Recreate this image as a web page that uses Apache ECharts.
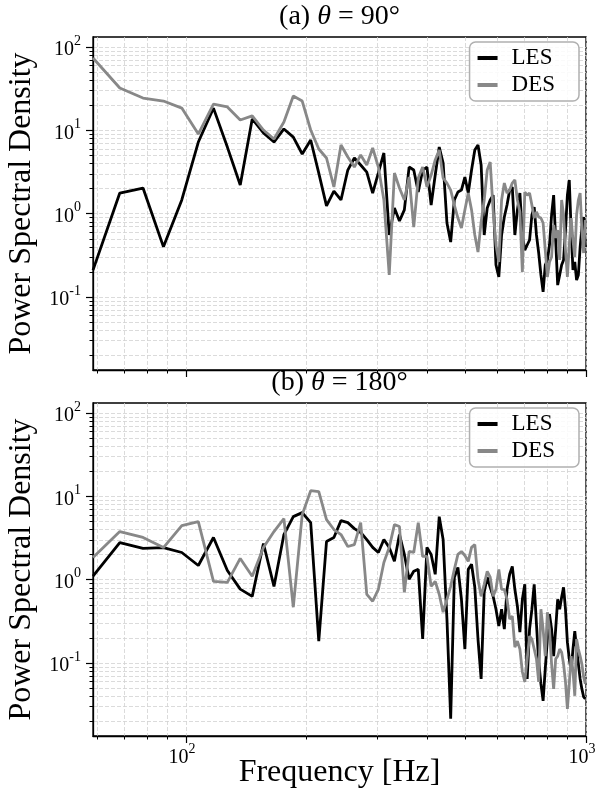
<!DOCTYPE html>
<html><head><meta charset="utf-8">
<script src="https://cdn.jsdelivr.net/npm/echarts@6/dist/echarts.min.js"></script>
<style>html,body{margin:0;padding:0;background:#fff}#c{width:595px;height:790px}</style>
</head><body><div id="c"></div>
<script>
const FONT = "'Liberation Serif','Times New Roman',serif";

const freq = [58.59, 68.36, 78.13, 87.89, 97.66, 107.42, 117.19, 126.95, 136.72, 146.48,
  156.25, 166.02, 175.78, 185.55, 195.31, 205.08, 214.84, 224.61, 234.38, 244.14,
  253.91, 263.67, 273.44, 283.2, 292.97, 302.73, 312.5, 322.27, 332.03, 341.8,
  351.56, 361.33, 371.09, 380.86, 390.63, 400.39, 410.16, 419.92, 429.69, 439.45,
  449.22, 458.98, 468.75, 478.52, 488.28, 498.05, 507.81, 517.58, 527.34, 537.11,
  546.88, 556.64, 566.41, 576.17, 585.94, 595.7, 605.47, 615.23, 625, 634.77,
  644.53, 654.3, 664.06, 673.83, 683.59, 693.36, 703.13, 712.89, 722.66, 732.42,
  742.19, 751.95, 761.72, 771.48, 781.25, 791.02, 800.78, 810.55, 820.31, 830.08,
  839.84, 849.61, 859.38, 869.14, 878.91, 888.67, 898.44, 908.2, 917.97, 927.73,
  937.5, 947.27, 957.03, 966.8, 976.56, 986.33, 996.09];

// (a) theta = 90
const lesA = [0.21, 1.77, 2.03, 0.40, 1.46, 7.24, 18.5, 6.3, 2.21, 13.7, 9.3, 7.24, 10.4, 8.3, 5.2, 7.66, 3.07, 1.24,
  1.87, 1.46, 3.34, 4.66, 3.84, 3.16, 1.77, 3.08, 5.35, 0.555, 1.17, 0.817, 1.11, 3.63, 3.34, 1.82, 3.34, 3.63, 1.27, 2.91, 6.31, 4.06, 0.773, 0.457, 1.46, 1.82,
  1.92, 2.75, 1.77, 3.34, 5.81, 6.67, 3.84, 0.555, 1.17, 1.46,
  1.67, 0.242, 0.174, 0.555, 0.912, 1.27, 1.92, 2.09, 0.555, 1.11,
  1.77, 0.555, 0.366, 0.421, 0.483, 0.964, 1.20, 0.555, 0.337, 0.184,
  0.115, 0.242, 0.278, 0.421, 0.964, 1.67, 0.483, 0.139, 0.184, 0.242,
  0.278, 0.637, 1.67, 2.54, 0.637, 0.211, 0.263, 0.160, 0.184, 0.398,
  0.673, 0.912, 0.398];
const desA = [73.8, 32.2, 24.4, 22.5, 18.5, 9.04, 20.7, 19.1, 13.3, 14.9, 10.1, 7.87, 12.6, 25.8, 22.5, 10.1, 5.97, 4.66,
  2.09, 6.67, 4.79, 3.63, 5.06, 3.84, 6.14, 3.63, 1.46, 0.184, 3.08, 2.03, 1.46, 2.75, 0.692, 2.68, 3.63, 2.09, 2.91, 4.41, 5.81, 2.68, 2.33, 1.92, 1.27, 0.887,
  0.673, 1.11, 1.77, 1.11, 0.555, 0.347, 0.794, 1.46, 3.34, 4.17,
  1.11, 0.421, 0.263, 1.46, 2.33, 1.77, 1.92, 2.33, 2.54, 1.46,
  1.05, 0.200, 1.82, 1.67, 1.77, 1.27, 0.887, 1.05, 0.912, 0.887,
  0.773, 0.366, 0.174, 0.263, 0.302, 0.731, 0.511, 0.637, 0.278, 1.46,
  0.964, 0.366, 0.174, 0.421, 0.887, 0.483, 0.302, 0.964, 1.46, 1.77,
  0.637, 0.337, 0.840];

// (b) theta = 180
const lesB = [1.10, 2.79, 2.37, 2.43, 2.12, 1.48, 3.21, 1.29, 0.77, 0.63, 2.72, 0.83, 3.48, 5.71, 6.38, 4.85, 0.183, 2.87, 3.21, 5.12,
  4.84, 4.10, 3.68, 3.03, 2.44, 2.12, 3.03, 2.44, 1.66, 3.48, 2.01, 1.01, 1.26, 1.33, 0.194, 2.44, 2.01, 1.16, 5.71, 3.03, 0.336, 0.0214, 1.07, 1.40,
  0.582, 0.147, 1.33, 1.53, 0.810, 0.194, 0.0644, 0.706, 1.07, 0.810,
  0.632, 0.442, 0.277, 0.442, 0.255, 0.766, 1.16, 1.44, 0.766, 0.480,
  0.234, 0.582, 0.879, 0.0644, 0.255, 0.442, 0.879, 0.292, 0.103, 0.0561,
  0.0352, 0.0848, 0.194, 0.385, 0.255, 0.121, 0.255, 0.582, 0.442, 0.615,
  0.810, 0.442, 0.178, 0.112, 0.0802, 0.147, 0.241, 0.147, 0.0973, 0.0644,
  0.0489, 0.0393, 0.0372];
const desB = [1.85, 3.78, 3.21, 2.43, 4.46, 4.98, 0.955, 0.93, 1.80, 1.10, 2.43, 3.78, 5.41, 0.467, 6.04, 11.7, 11.4, 5.26, 4.0, 3.48,
  2.50, 2.64, 4.84, 0.668, 0.551, 0.766, 1.61, 2.44, 4.58, 4.34, 0.706, 2.18, 2.12, 4.84, 1.90, 1.90, 0.832, 0.955, 0.668, 0.407, 0.582, 0.832, 1.33, 2.01,
  2.18, 1.95, 1.66, 2.44, 2.64, 1.01, 0.632, 0.879, 1.26, 1.07,
  0.632, 0.766, 1.33, 0.766, 0.766, 0.582, 0.336, 0.365, 0.155, 0.183,
  0.147, 0.0780, 0.0593, 0.112, 0.210, 0.194, 0.147, 0.112, 0.0593, 0.442,
  0.255, 0.121, 0.407, 0.255, 0.0973, 0.0489, 0.112, 0.121, 0.147, 0.135,
  0.0973, 0.0593, 0.0282, 0.0561, 0.121, 0.0802, 0.0404, 0.194, 0.147, 0.121,
  0.0973, 0.0687, 0.0561];

const xMajor = [100, 1000];
const xMinor = [60, 70, 80, 90, 200, 300, 400, 500, 600, 700, 800, 900];
const yMajor = [0.1, 1, 10, 100];
const yMinor = [0.02, 0.03, 0.04, 0.05, 0.06, 0.07, 0.08, 0.09, 0.2, 0.3, 0.4, 0.5, 0.6, 0.7, 0.8, 0.9,
  2, 3, 4, 5, 6, 7, 8, 9, 20, 30, 40, 50, 60, 70, 80, 90];
const titles = ['(a)', '(b)'];
const angles = ['90°', '180°'];
const seriesNames = ['LES', 'DES'];

const X_MIN = 58.59, X_MAX = 1000, Y_MIN = 0.0133, Y_MAX = 132;
const LES_COLOR = '#000000', DES_COLOR = '#888888';

function supLabel(v) {
  const e = Math.round(Math.log10(v));
  return '{b|10}{s|' + (e < 0 ? '-' : '') + Math.abs(e) + '}';
}
const richY = {
  b: { fontFamily: FONT, fontSize: 20, color: '#000', verticalAlign: 'bottom', padding: [6, 0, 0, 0] },
  s: { fontFamily: FONT, fontSize: 14, color: '#000', verticalAlign: 'top' }
};
const richX = {
  b: { fontFamily: FONT, fontSize: 20, color: '#000', verticalAlign: 'bottom', padding: [6, 0, 0, 0] },
  s: { fontFamily: FONT, fontSize: 14, color: '#000', verticalAlign: 'top', padding: [0, 8, 0, 0] }
};
const gridLine = { show: true, lineStyle: { color: '#d2d2d2', type: [4, 2], width: 0.8 } };

function pairs(ys) { return freq.map((f, i) => [f, ys[i]]); }

const grids = [
  { left: 93, right: 9, top: 37, height: 333, show: true, borderColor: '#000', borderWidth: 1.3, containLabel: false, outerBoundsMode: 'none' },
  { left: 93, right: 9, top: 403, height: 333, show: true, borderColor: '#000', borderWidth: 1.3, containLabel: false, outerBoundsMode: 'none' }
];

const xAxis = [], yAxis = [];
[0, 1].forEach(gi => {
  xAxis.push({
    type: 'log', logBase: 10, gridIndex: gi, min: X_MIN, max: X_MAX, position: 'bottom',
    axisLine: { show: true, onZero: false, lineStyle: { color: '#000', width: 1.3 } },
    axisTick: { show: true, customValues: xMajor, length: 7, lineStyle: { color: '#000', width: 1.2 } },
    axisLabel: { show: gi === 1, customValues: xMajor, formatter: supLabel, rich: richX, margin: 6 },
    splitLine: gridLine, minorTick: { show: false }, minorSplitLine: { show: false },
    name: gi === 1 ? 'Frequency [Hz]' : '', nameLocation: 'middle', nameGap: 21, nameMoveOverlap: false,
    nameTextStyle: { fontFamily: FONT, fontSize: 32, color: '#000' }
  });
  xAxis.push({
    type: 'log', logBase: 10, gridIndex: gi, min: X_MIN, max: X_MAX, position: 'bottom',
    axisLine: { show: false, onZero: false },
    axisTick: { show: true, customValues: xMinor, length: 3.5, lineStyle: { color: '#000', width: 1 } },
    axisLabel: { show: false }, splitLine: gridLine
  });
  yAxis.push({
    type: 'log', logBase: 10, gridIndex: gi, min: Y_MIN, max: Y_MAX, position: 'left',
    axisLine: { show: true, onZero: false, lineStyle: { color: '#000', width: 1.3 } },
    axisTick: { show: true, customValues: yMajor, length: 7, lineStyle: { color: '#000', width: 1.2 } },
    axisLabel: { show: true, customValues: yMajor, formatter: supLabel, rich: richY, margin: 12 },
    splitLine: gridLine, minorTick: { show: false }, minorSplitLine: { show: false },
    name: 'Power Spectral Density', nameLocation: 'middle', nameGap: 55, nameRotate: 90, nameMoveOverlap: false,
    nameTextStyle: { fontFamily: FONT, fontSize: 32, color: '#000' }
  });
  yAxis.push({
    type: 'log', logBase: 10, gridIndex: gi, min: Y_MIN, max: Y_MAX, position: 'left',
    axisLine: { show: false, onZero: false },
    axisTick: { show: true, customValues: yMinor, length: 3.5, lineStyle: { color: '#000', width: 1 } },
    axisLabel: { show: false }, splitLine: gridLine
  });
});

const series = [];
[[lesA, desA], [lesB, desB]].forEach((pair, gi) => {
  pair.forEach((ys, si) => {
    series.push({
      name: seriesNames[si], type: 'line', xAxisIndex: gi * 2, yAxisIndex: gi * 2,
      data: pairs(ys), symbol: 'none', showSymbol: false, clip: true,
      lineStyle: { color: si === 0 ? LES_COLOR : DES_COLOR, width: 2.8 },
      itemStyle: { color: si === 0 ? LES_COLOR : DES_COLOR },
      z: 3 + si
    });
  });
});

const legendBase = {
  data: seriesNames, orient: 'vertical', right: 16, icon: 'rect', itemWidth: 20, itemHeight: 4,
  itemGap: 1, padding: [3, 24, 3, 8], borderColor: '#b0b0b0', borderWidth: 1.5, borderRadius: 6,
  backgroundColor: 'rgba(255,255,255,0.85)',
  textStyle: { fontFamily: FONT, fontSize: 23, color: '#000', lineHeight: 26, padding: [0, 0, 0, 9] }
};

const titleRich = {
  n: { fontFamily: FONT, fontSize: 28, color: '#000', fontWeight: 'normal' },
  i: { fontFamily: FONT, fontSize: 28, color: '#000', fontStyle: 'italic', fontWeight: 'normal' }
};

const option = {
  backgroundColor: '#fff',
  animation: false,
  title: [0, 1].map(gi => ({
    text: '{n|' + titles[gi] + ' }{i|θ}{n| = ' + angles[gi] + '}',
    left: 339.5, textAlign: 'center', top: gi === 0 ? 3 : 369, padding: 0,
    textStyle: { fontWeight: 'normal', fontFamily: FONT, fontSize: 28, rich: titleRich }
  })),
  legend: [Object.assign({}, legendBase, { top: 42 }), Object.assign({}, legendBase, { top: 408 })],
  grid: grids,
  xAxis: xAxis,
  yAxis: yAxis,
  series: series
};

const chart = echarts.init(document.getElementById('c'));
chart.setOption(option);
</script>
</body></html>
